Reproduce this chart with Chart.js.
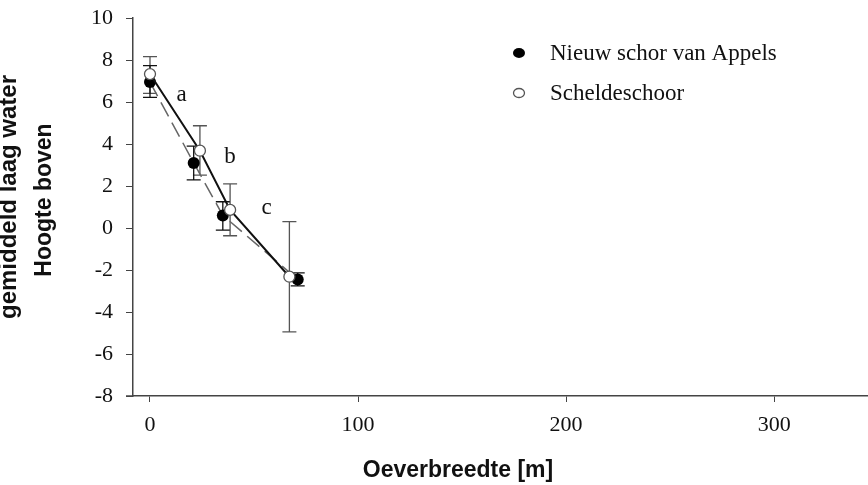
<!DOCTYPE html>
<html>
<head>
<meta charset="utf-8">
<script src="https://cdn.jsdelivr.net/npm/chart.js@4"></script>
<style>
  html, body { margin: 0; padding: 0; background: #fff; overflow: hidden; }
  #wrap { width: 875px; height: 485px; position: relative; }
  #oeverChart { display: block; }
</style>
</head>
<body>
<div id="wrap"><canvas id="oeverChart"></canvas></div>
<script>
// Nieuw schor van Appels (filled dots, dashed line)
const xNieuw = [0, 21, 35, 71];
const yNieuw = [6.95, 3.1, 0.6, -2.45];
const hiNieuw = [7.73, 3.9, 1.25, -2.14];
const loNieuw = [6.22, 2.29, -0.1, -2.76];

// Scheldeschoor (open dots, solid line)
const xSchelde = [0, 24, 38.5, 67];
const ySchelde = [7.33, 3.68, 0.86, -2.32];
const hiSchelde = [8.16, 4.87, 2.1, 0.3];
const loSchelde = [6.41, 2.52, -0.37, -4.95];

const xTicks = [0, 100, 200, 300];
const yTicks = [-8, -6, -4, -2, 0, 2, 4, 6, 8, 10];

// letters next to the segments
const letters = ["a", "b", "c"];
const letterX = [15.2, 38.5, 56];
const letterY = [6.33, 3.38, 0.95];

const serif = "'Liberation Serif', 'Times New Roman', serif";
const sans = "'Liberation Sans', Arial, sans-serif";

const toPoints = (xs, ys) => xs.map((x, i) => ({ x: x, y: ys[i] }));

const extras = {
    id: "extras",
    beforeDatasetsDraw(chart) {
        const ctx = chart.ctx;
        const xs = chart.scales.x;
        const ys = chart.scales.y;
        const bars = (xv, hi, lo, color) => {
            ctx.save();
            ctx.strokeStyle = color;
            ctx.lineWidth = 1.3;
            xv.forEach((v, i) => {
                const px = xs.getPixelForValue(v);
                const top = ys.getPixelForValue(hi[i]);
                const bot = ys.getPixelForValue(lo[i]);
                ctx.beginPath();
                ctx.moveTo(px, top); ctx.lineTo(px, bot);
                ctx.moveTo(px - 7, top); ctx.lineTo(px + 7, top);
                ctx.moveTo(px - 7, bot); ctx.lineTo(px + 7, bot);
                ctx.stroke();
            });
            ctx.restore();
        };
        bars(xSchelde, hiSchelde, loSchelde, "#555");
        bars(xNieuw, hiNieuw, loNieuw, "#111");
    },
    afterDraw(chart) {
        const ctx = chart.ctx;
        const xs = chart.scales.x;
        const ys = chart.scales.y;
        const area = chart.chartArea;
        ctx.save();

        // x axis line runs a little past the y axis
        ctx.strokeStyle = "#444";
        ctx.lineWidth = 1.5;
        ctx.beginPath();
        ctx.moveTo(126, area.bottom);
        ctx.lineTo(area.left, area.bottom);
        ctx.stroke();

        // letters
        ctx.fillStyle = "#111";
        ctx.font = "23px " + serif;
        ctx.textAlign = "center";
        ctx.textBaseline = "middle";
        letters.forEach((t, i) => {
            ctx.fillText(t, xs.getPixelForValue(letterX[i]), ys.getPixelForValue(letterY[i]));
        });

        // legend
        ctx.textAlign = "left";
        ctx.beginPath();
        ctx.ellipse(519, 53, 6, 5, 0, 0, Math.PI * 2);
        ctx.fillStyle = "#000";
        ctx.fill();
        ctx.beginPath();
        ctx.ellipse(519, 93, 5.5, 4.5, 0, 0, Math.PI * 2);
        ctx.fillStyle = "#fff";
        ctx.fill();
        ctx.strokeStyle = "#555";
        ctx.lineWidth = 1.3;
        ctx.stroke();
        ctx.fillStyle = "#111";
        ctx.fillText("Nieuw schor van Appels", 550, 54);
        ctx.fillText("Scheldeschoor", 550, 94);

        // axis titles
        ctx.font = "bold 23px " + sans;
        ctx.textAlign = "center";
        ctx.fillText("Oeverbreedte [m]", 458, 471);

        ctx.font = "bold 24px " + sans;
        ctx.translate(0, 197);
        ctx.rotate(-Math.PI / 2);
        ctx.textBaseline = "alphabetic";
        ctx.fillText("gemiddeld laag water", 0, 16);
        ctx.font = "bold 23px " + sans;
        ctx.fillText("Hoogte boven", -3, 51);
        ctx.restore();
    },
};

new Chart(document.getElementById("oeverChart"), {
    type: "scatter",
    data: {
        datasets: [
            {
                label: "Scheldeschoor",
                data: toPoints(xSchelde, ySchelde),
                showLine: true,
                borderColor: "#111",
                borderWidth: 2,
                pointRadius: 5.5,
                pointBackgroundColor: "#fff",
                pointBorderColor: "#555",
                pointBorderWidth: 1.3,
                order: 1,
            },
            {
                label: "Nieuw schor van Appels",
                data: toPoints(xNieuw, yNieuw),
                showLine: true,
                borderColor: "#666",
                borderWidth: 1.5,
                borderDash: [16, 7],
                pointRadius: 6,
                pointBackgroundColor: "#000",
                pointBorderColor: "#000",
                pointBorderWidth: 0,
                order: 2,
            },
        ],
    },
    options: {
        responsive: true,
        maintainAspectRatio: false,
        animation: false,
        layout: { padding: { top: 18, right: 0, bottom: 0, left: 0 } },
        plugins: {
            legend: { display: false },
            tooltip: { enabled: false },
        },
        scales: {
            x: {
                type: "linear",
                min: -8.17,
                max: 345.2,
                afterBuildTicks: (scale) => {
                    scale.ticks = xTicks.map((v) => ({ value: v }));
                },
                afterFit: (scale) => {
                    scale.height = 89;
                    scale.paddingLeft = 0;
                    scale.paddingRight = 0;
                },
                grid: { drawOnChartArea: false, drawTicks: true, tickLength: 6, color: "#444" },
                border: { display: true, color: "#444", width: 1.5 },
                ticks: {
                    padding: 10,
                    color: "#111",
                    font: { family: serif, size: 22 },
                },
            },
            y: {
                type: "linear",
                min: -8,
                max: 10,
                afterBuildTicks: (scale) => {
                    scale.ticks = yTicks.map((v) => ({ value: v }));
                },
                afterFit: (scale) => {
                    scale.width = 133;
                    scale.paddingTop = 0;
                    scale.paddingBottom = 0;
                    scale.paddingLeft = 0;
                    scale.paddingRight = 0;
                },
                grid: { drawOnChartArea: false, drawTicks: true, tickLength: 7, color: "#444" },
                border: { display: true, color: "#444", width: 1.5 },
                ticks: {
                    padding: 13,
                    color: "#111",
                    font: { family: serif, size: 22 },
                },
            },
        },
    },
    plugins: [extras],
});
</script>
</body>
</html>
